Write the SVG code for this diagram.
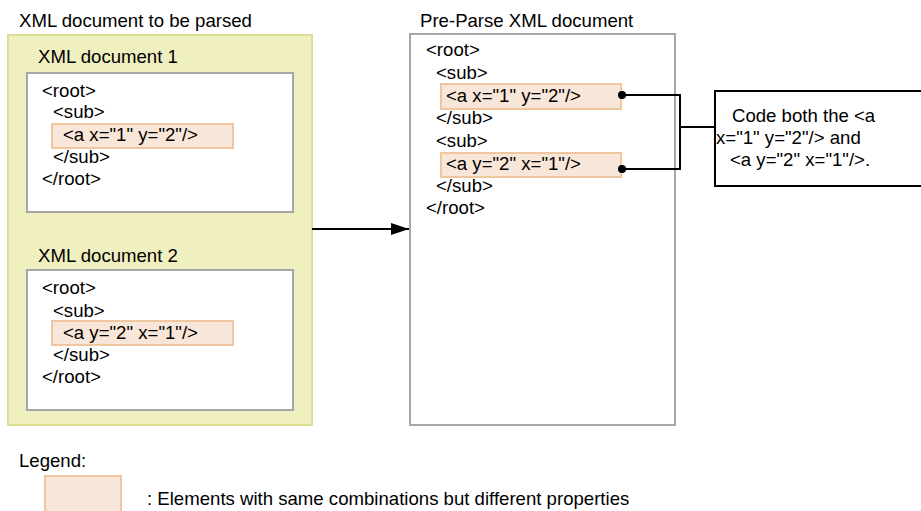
<svg xmlns="http://www.w3.org/2000/svg" width="921" height="511" viewBox="0 0 921 511">
<style>
text{font-family:"Liberation Sans",Arial,sans-serif;font-size:18.6px;fill:#000}
.grp{fill:#F0EFC0;stroke:#DCDF94;stroke-width:2}
.doc{fill:#fff;stroke:#A6A6A6;stroke-width:2}
.hl{fill:#F8E6D8;stroke:#EFC6A0;stroke-width:2}
.line{fill:none;stroke:#000;stroke-width:2}
</style>
<defs>
<marker id="arr" markerWidth="18" markerHeight="12" refX="18" refY="6" orient="auto" markerUnits="userSpaceOnUse">
<path d="M0,0 L18,6 L0,12 Z" fill="#000"/>
</marker>
</defs>
<text x="19" y="27">XML document to be parsed</text>
<g id="parsed-group">
<rect class="grp" x="8" y="35" width="304" height="390"/>
</g>
<g id="doc1">
<text x="38" y="63">XML document 1</text>
<rect class="doc" x="27" y="73" width="266" height="139"/>
<rect class="hl" x="52" y="124" width="181" height="24"/>
<text x="42" y="97">&lt;root&gt;</text>
<text x="53" y="118">&lt;sub&gt;</text>
<text x="63" y="141">&lt;a x="1" y="2"/&gt;</text>
<text x="53" y="163">&lt;/sub&gt;</text>
<text x="42" y="185">&lt;/root&gt;</text>
</g>
<g id="doc2">
<text x="38" y="262">XML document 2</text>
<rect class="doc" x="27" y="270" width="266" height="140"/>
<rect class="hl" x="52" y="321" width="181" height="24"/>
<text x="42" y="294">&lt;root&gt;</text>
<text x="53" y="317">&lt;sub&gt;</text>
<text x="63" y="339">&lt;a y="2" x="1"/&gt;</text>
<text x="53" y="361">&lt;/sub&gt;</text>
<text x="42" y="383">&lt;/root&gt;</text>
</g>
<g id="preparse">
<text x="420" y="27">Pre-Parse XML document</text>
<rect class="doc" x="410" y="34" width="265" height="391"/>
<rect class="hl" x="441" y="84" width="180" height="25"/>
<rect class="hl" x="441" y="153" width="180" height="24"/>
<text x="426" y="56">&lt;root&gt;</text>
<text x="436" y="79">&lt;sub&gt;</text>
<text x="446" y="102">&lt;a x="1" y="2"/&gt;</text>
<text x="436" y="124">&lt;/sub&gt;</text>
<text x="436" y="147">&lt;sub&gt;</text>
<text x="446" y="170">&lt;a y="2" x="1"/&gt;</text>
<text x="436" y="192">&lt;/sub&gt;</text>
<text x="426" y="214">&lt;/root&gt;</text>
</g>
<g id="note">
<rect x="715" y="91" width="212" height="95" fill="#fff" stroke="#000" stroke-width="2"/>
<text x="732" y="122">Code both the &lt;a</text>
<text x="716" y="144">x="1" y="2"/&gt; and</text>
<text x="730" y="166">&lt;a y="2" x="1"/&gt;.</text>
</g>
<g id="connectors">
<line class="line" x1="312" y1="229" x2="409" y2="229" marker-end="url(#arr)"/>
<path class="line" d="M622 95 H680 V169 H622 M680 127 H715"/>
<circle cx="622" cy="95" r="4" fill="#000"/>
<circle cx="622" cy="169" r="4" fill="#000"/>
</g>
<g id="legend">
<text x="19" y="467">Legend:</text>
<rect class="hl" x="45" y="476" width="76" height="40"/>
<text x="147" y="505">: Elements with same combinations but different properties</text>
</g>
</svg>
